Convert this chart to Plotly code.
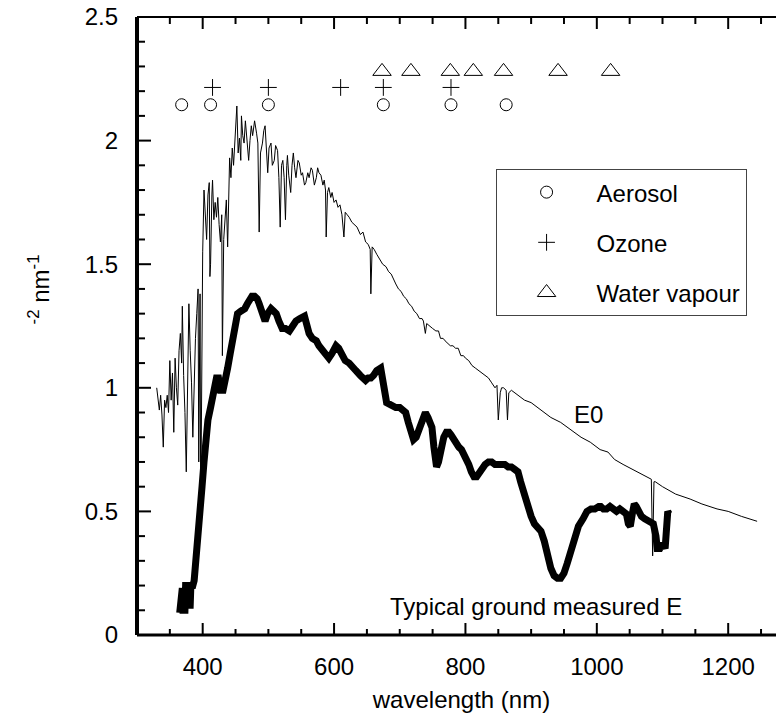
import plotly.graph_objects as go

# ---------------- data ----------------
e0_wl = [330, 332, 334, 336, 338, 340, 342, 344, 346, 348, 350, 352, 354, 356, 358, 360, 362, 364, 366, 368,
         369, 371, 373, 375, 377, 379, 381, 383, 385, 387, 389, 391, 393, 394, 396, 397, 399, 400, 402, 404,
         406, 408, 410, 411, 412, 414, 415, 417, 419, 421, 423, 425, 427, 429, 430, 432, 434, 436, 438, 440,
         441, 443, 445, 447, 448, 450, 452, 454, 456, 458, 459, 461, 463, 465, 466, 468, 470, 472, 474, 476,
         479, 482, 484, 486, 488, 491, 493, 495, 497, 499, 501, 504, 506, 509, 511, 514, 516, 518, 520, 522,
         524, 526, 528, 529, 531, 534, 536, 538, 540, 542, 545, 547, 550, 552, 555, 557, 560, 562, 565, 567,
         570, 573, 575, 577, 580, 583, 585, 587, 588, 590, 592, 595, 597, 600, 603, 606, 609, 612, 615, 617,
         620, 623, 627, 631, 635, 640, 644, 648, 652, 655, 656, 658, 661, 665, 670, 674, 679, 683, 687, 690,
         694, 698, 702, 706, 710, 714, 718, 722, 726, 730, 734, 736, 739, 741, 745, 750, 755, 759, 762, 766,
         769, 773, 777, 781, 785, 789, 793, 797, 800, 805, 810, 815, 820, 825, 830, 835, 840, 845, 848, 850,
         853, 855, 858, 862, 864, 866, 870, 880, 890, 900, 915, 930, 945, 960, 976, 990, 1005, 1017, 1027, 1040,
         1055, 1068, 1077, 1083, 1085, 1087, 1089, 1100, 1120, 1142, 1160, 1183, 1200, 1220, 1244]
e0_val = [1.00, 0.95, 0.91, 0.97, 0.89, 0.76, 0.95, 0.92, 0.97, 0.90, 1.11, 0.95, 1.06, 0.82, 1.12, 1.00, 0.93, 1.15, 1.22, 1.10,
          1.33, 1.05, 0.90, 0.66, 1.10, 1.34, 1.15, 1.02, 0.80, 1.05, 1.20, 1.30, 1.40, 0.70, 1.38, 0.47, 1.20, 1.55, 1.80, 1.66,
          1.60, 1.78, 1.83, 1.45, 1.50, 1.78, 1.84, 1.68, 1.75, 1.69, 1.77, 1.66, 1.59, 1.70, 1.13, 1.60, 1.67, 1.76, 1.57, 1.85,
          1.93, 1.85, 1.97, 1.90, 1.95, 2.05, 2.14, 1.95, 2.01, 1.92, 2.10, 2.02, 1.99, 2.08, 2.05, 1.98, 1.92, 2.00, 2.06, 2.02,
          2.08, 2.03, 1.99, 1.63, 1.95, 1.99, 2.04, 2.06, 1.96, 1.87, 1.97, 1.99, 1.90, 1.92, 1.98, 1.96, 1.85, 1.65, 1.90, 1.92,
          1.85, 1.68, 1.90, 1.94, 1.86, 1.79, 1.90, 1.95, 1.89, 1.85, 1.92, 1.91, 1.86, 1.87, 1.82, 1.83, 1.87, 1.85, 1.89, 1.88,
          1.82, 1.85, 1.89, 1.87, 1.86, 1.82, 1.84, 1.80, 1.61, 1.79, 1.81, 1.77, 1.79, 1.75, 1.76, 1.73, 1.74, 1.70, 1.61, 1.71,
          1.70, 1.69, 1.67, 1.66, 1.65, 1.62, 1.63, 1.59, 1.58, 1.56, 1.38, 1.57, 1.56, 1.54, 1.52, 1.50, 1.49, 1.47, 1.46, 1.44,
          1.42, 1.40, 1.39, 1.37, 1.36, 1.34, 1.33, 1.31, 1.30, 1.28, 1.28, 1.27, 1.22, 1.26, 1.25, 1.24, 1.23, 1.23, 1.20, 1.20,
          1.19, 1.18, 1.17, 1.17, 1.16, 1.16, 1.13, 1.13, 1.12, 1.11, 1.09, 1.08, 1.07, 1.06, 1.05, 1.04, 1.02, 1.00, 1.01, 0.87,
          0.98, 1.00, 1.00, 0.99, 0.87, 0.98, 0.99, 0.97, 0.95, 0.94, 0.91, 0.88, 0.86, 0.83, 0.80, 0.78, 0.75, 0.74, 0.71, 0.69,
          0.67, 0.65, 0.64, 0.63, 0.32, 0.62, 0.62, 0.60, 0.57, 0.55, 0.53, 0.51, 0.50, 0.48, 0.46]

e_wl = [365, 367, 369, 370, 373, 374, 377, 378, 381, 382, 385, 387, 390, 393, 396, 399, 402, 405, 408, 412,
        415, 418, 421, 424, 427, 431, 434, 438, 442, 446, 450, 453, 458, 464, 468, 471, 475, 479, 483, 486,
        490, 495, 499, 504, 508, 512, 516, 521, 526, 532, 537, 542, 548, 555, 558, 562, 567, 573, 577, 582,
        587, 592, 597, 603, 607, 612, 617, 623, 628, 633, 640, 648, 652, 656, 660, 665, 671, 675, 680, 687,
        694, 700, 705, 709, 713, 717, 721, 725, 729, 732, 736, 739, 743, 746, 749, 752, 756, 759, 763, 767,
        771, 775, 778, 782, 786, 790, 794, 798, 801, 805, 809, 813, 817, 821, 825, 830, 835, 840, 845, 850,
        855, 860, 865, 870, 875, 880, 884, 888, 892, 896, 900, 905, 910, 915, 920, 925, 930, 935, 940, 945,
        950, 955, 960, 966, 972, 979, 985, 991, 997, 1003, 1006, 1010, 1015, 1020, 1025, 1030, 1035, 1040, 1045, 1048,
        1051, 1054, 1057, 1060, 1064, 1068, 1073, 1078, 1082, 1086, 1090, 1092, 1096, 1100, 1104, 1106, 1108, 1110]
e_val = [0.09, 0.19, 0.19, 0.10, 0.10, 0.20, 0.20, 0.12, 0.12, 0.20, 0.20, 0.22, 0.30, 0.38, 0.48, 0.60, 0.70, 0.80, 0.87, 0.92,
         0.97, 0.99, 1.04, 1.04, 0.99, 0.99, 1.02, 1.08, 1.14, 1.19, 1.25, 1.30, 1.31, 1.32, 1.34, 1.35, 1.37, 1.37, 1.36, 1.34,
         1.30, 1.27, 1.30, 1.32, 1.31, 1.30, 1.27, 1.24, 1.24, 1.23, 1.25, 1.27, 1.28, 1.29, 1.26, 1.22, 1.20, 1.19, 1.17, 1.15,
         1.13, 1.12, 1.14, 1.17, 1.16, 1.13, 1.11, 1.10, 1.08, 1.07, 1.05, 1.03, 1.04, 1.04, 1.05, 1.07, 1.08, 1.03, 0.94, 0.93,
         0.92, 0.92, 0.91, 0.90, 0.86, 0.81, 0.79, 0.80, 0.83, 0.85, 0.89, 0.90, 0.88, 0.86, 0.84, 0.76, 0.68, 0.70, 0.77, 0.80,
         0.82, 0.82, 0.81, 0.79, 0.77, 0.76, 0.75, 0.73, 0.71, 0.69, 0.66, 0.64, 0.64, 0.66, 0.68, 0.69, 0.70, 0.70, 0.69, 0.69,
         0.69, 0.69, 0.68, 0.68, 0.67, 0.66, 0.62, 0.58, 0.54, 0.50, 0.48, 0.45, 0.43, 0.42, 0.38, 0.32, 0.27, 0.24, 0.23, 0.23,
         0.25, 0.29, 0.34, 0.38, 0.44, 0.47, 0.50, 0.51, 0.51, 0.52, 0.52, 0.51, 0.51, 0.52, 0.51, 0.50, 0.51, 0.50, 0.49, 0.45,
         0.44, 0.49, 0.53, 0.52, 0.49, 0.48, 0.47, 0.46, 0.46, 0.45, 0.40, 0.35, 0.35, 0.37, 0.35, 0.44, 0.50, 0.49]

aerosol_wl = [368, 412, 500, 675, 778, 862]
aerosol_y = [2.145, 2.145, 2.145, 2.145, 2.145, 2.145]
ozone_wl = [415, 500, 610, 675, 778]
ozone_y = [2.215, 2.215, 2.215, 2.215, 2.215]
water_wl = [673, 717, 777, 812, 858, 941, 1021]
water_y = [2.28, 2.28, 2.28, 2.28, 2.28, 2.28, 2.28]

x_range = [300, 1288]
y_range = [0, 2.5]
x_major = [400, 600, 800, 1000, 1200]
x_minor = [350, 450, 500, 550, 650, 700, 750, 850, 900, 950, 1050, 1100, 1150, 1250]
y_major = [0.5, 1.0, 1.5, 2.0]
y_minor = [0.1, 0.2, 0.3, 0.4, 0.6, 0.7, 0.8, 0.9, 1.1, 1.2, 1.3, 1.4, 1.6, 1.7, 1.8, 1.9, 2.1, 2.2, 2.3, 2.4]
right_ticks = [2.120, 1.772, 1.424, 1.076, 0.728, 0.380]

FONT = "Liberation Sans, Arial, sans-serif"
W, H = 784, 726
M = dict(l=129, r=6, t=9, b=99)
PW = W - M["l"] - M["r"]
PH = H - M["t"] - M["b"]

fig = go.Figure()
fig.add_trace(go.Scatter(x=e0_wl, y=e0_val, mode="lines", line=dict(color="black", width=1),
                         showlegend=False, hoverinfo="skip"))
fig.add_trace(go.Scatter(x=e_wl, y=e_val, mode="lines", line=dict(color="black", width=7),
                         showlegend=False, hoverinfo="skip"))
fig.add_trace(go.Scatter(x=aerosol_wl, y=aerosol_y, mode="markers", name="Aerosol", legendgroup="a",
                         marker=dict(symbol="circle-open", size=12, color="black", line=dict(width=1))))
fig.add_trace(go.Scatter(x=ozone_wl, y=ozone_y, mode="markers", name="Ozone", legendgroup="b",
                         marker=dict(symbol="cross-thin-open", size=12, color="black", line=dict(width=1))))
fig.add_trace(go.Scatter(x=water_wl, y=water_y, mode="markers", name="Water vapour", legendgroup="c",
                         marker=dict(symbol="triangle-up-open", size=16, color="black", line=dict(width=1))))

fig.add_annotation(x=987, y=0.894, text="E0", showarrow=False, font=dict(size=24, family=FONT, color="black"))
fig.add_annotation(x=682, y=0.117, text="Typical ground measured E", showarrow=False, xanchor="left",
                   font=dict(size=24, family=FONT, color="black"))
fig.add_annotation(xref="paper", yref="paper", x=-0.178, y=0.56, text="<sup>-2</sup> nm<sup>-1</sup>",
                   textangle=-90, showarrow=False, font=dict(size=24, family=FONT, color="black"))

# ---- frame and tick marks (axis decorations) ----
shapes = []
def seg(**kw):
    d = dict(type="line", layer="above", line=dict(color="black", width=kw.pop("w", 1.5)))
    d.update(kw)
    shapes.append(d)

seg(xref="paper", yref="paper", x0=0, x1=0, y0=0, y1=1, w=4)      # left
seg(xref="paper", yref="paper", x0=0, x1=1, y0=0, y1=0, w=3)      # bottom
seg(xref="paper", yref="paper", x0=0, x1=1, y0=1, y1=1, w=2)      # top
for t in x_major:
    seg(xref="x", yref="paper", x0=t, x1=t, y0=0, y1=12 / PH, w=2)
    seg(xref="x", yref="paper", x0=t, x1=t, y0=1, y1=1 - 12 / PH, w=2)
for t in x_minor:
    seg(xref="x", yref="paper", x0=t, x1=t, y0=0, y1=6 / PH, w=2)
    seg(xref="x", yref="paper", x0=t, x1=t, y0=1, y1=1 - 7 / PH, w=2)
for t in y_major:
    seg(xref="paper", yref="y", x0=0, x1=14 / PW, y0=t, y1=t, w=2)
for t in y_minor:
    seg(xref="paper", yref="y", x0=0, x1=8 / PW, y0=t, y1=t, w=2)
for t in right_ticks:
    seg(xref="paper", yref="y", x0=1, x1=1 - 8 / PW, y0=t, y1=t, w=2)

fig.update_layout(
    width=W, height=H, margin=M,
    paper_bgcolor="white", plot_bgcolor="white",
    font=dict(family=FONT, size=24, color="black"),
    shapes=shapes,
    xaxis=dict(range=x_range, showline=False, showgrid=False, zeroline=False, ticks="",
               tickmode="array", tickvals=x_major, automargin=False, ticklabelstandoff=15,
               title=dict(text="wavelength (nm)", font=dict(size=24), standoff=12)),
    yaxis=dict(range=y_range, showline=False, showgrid=False, zeroline=False, ticks="",
               tickmode="array", tickvals=[0, 0.5, 1.0, 1.5, 2.0, 2.5],
               automargin=False, ticklabelstandoff=18, ticklabeloverflow="allow"),
    legend=dict(x=0.5525, y=0.754, xanchor="left", yanchor="top", bgcolor="white",
                bordercolor="#444", borderwidth=1, font=dict(size=24, family=FONT),
                itemwidth=90, tracegroupgap=16, traceorder="grouped", entrywidth=234),
    showlegend=True,
)

fig.write_html("out.html")
